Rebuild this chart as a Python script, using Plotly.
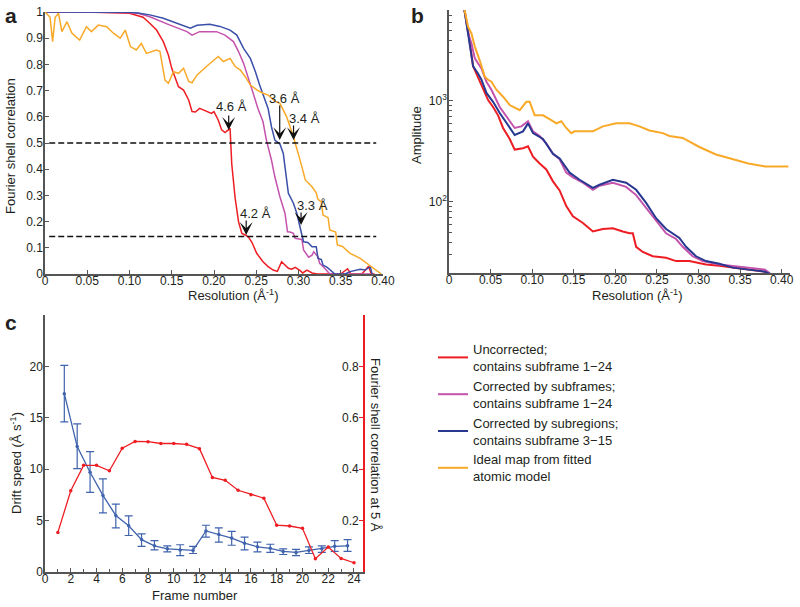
import plotly.graph_objects as go

FONT = "Liberation Sans, Arial, Helvetica, sans-serif"
TXT = "#231f20"
AX = "#555555"

# ---------------- Panel a: Fourier shell correlation ----------------
fsc_unc_x = [0, 0.05, 0.10, 0.116, 0.124, 0.132, 0.14, 0.146, 0.15, 0.154, 0.158, 0.164, 0.17, 0.174,
             0.178, 0.183, 0.191, 0.197, 0.2, 0.205, 0.209, 0.213, 0.217, 0.219, 0.221, 0.225, 0.229,
             0.233, 0.237, 0.241, 0.245, 0.2505, 0.258, 0.264, 0.27, 0.275, 0.28, 0.284, 0.288, 0.292,
             0.296, 0.302, 0.305, 0.31, 0.316, 0.322, 0.33, 0.34, 0.35, 0.358, 0.362, 0.366, 0.375,
             0.383, 0.386, 0.39]
fsc_unc_y = [1.0, 1.0, 0.995, 0.98, 0.957, 0.931, 0.887, 0.836, 0.785, 0.753, 0.715, 0.702, 0.664, 0.62,
             0.618, 0.632, 0.62, 0.613, 0.62, 0.588, 0.55, 0.54, 0.55, 0.556, 0.42, 0.29, 0.2,
             0.155, 0.149, 0.14, 0.12, 0.079, 0.047, 0.028, 0.015, 0.01, 0.047, 0.036, 0.022, 0.018,
             0.025, 0.013, 0.004, 0.015, 0.004, 0.0, 0.0, 0.0, 0.0, 0.02, 0.0, 0.0, 0.0,
             0.03, 0.0, 0.0]

fsc_sub_x = [0, 0.05, 0.10, 0.11, 0.124, 0.148, 0.168, 0.174, 0.183, 0.203, 0.213, 0.223, 0.229, 0.235,
             0.241, 0.247, 0.252, 0.258, 0.262, 0.268, 0.272, 0.278, 0.284, 0.287, 0.29, 0.294, 0.296,
             0.304, 0.306, 0.312, 0.316, 0.318, 0.323, 0.325, 0.331, 0.337, 0.36, 0.385]
fsc_sub_y = [1.0, 1.0, 0.998, 0.995, 0.982, 0.95, 0.925, 0.912, 0.925, 0.925, 0.912, 0.887, 0.849, 0.804,
             0.747, 0.683, 0.632, 0.581, 0.511, 0.435, 0.371, 0.295, 0.232, 0.161, 0.16, 0.155, 0.136,
             0.132, 0.092, 0.064, 0.072, 0.085, 0.066, 0.041, 0.022, 0.0, 0.0, 0.0]

fsc_reg_x = [0, 0.05, 0.10, 0.11, 0.124, 0.14, 0.156, 0.172, 0.18, 0.195, 0.207, 0.219, 0.227, 0.235,
             0.243, 0.249, 0.254, 0.26, 0.264, 0.268, 0.272, 0.278, 0.282, 0.285, 0.288, 0.294, 0.298,
             0.304, 0.306, 0.311, 0.316, 0.321, 0.323, 0.327, 0.329, 0.334, 0.339, 0.343, 0.355, 0.361,
             0.373, 0.379, 0.385, 0.387]
fsc_reg_y = [1.0, 1.0, 0.999, 0.996, 0.989, 0.976, 0.957, 0.938, 0.949, 0.953, 0.945, 0.931, 0.912, 0.861,
             0.823, 0.772, 0.721, 0.671, 0.632, 0.562, 0.511, 0.496, 0.46, 0.384, 0.308, 0.27, 0.232,
             0.149, 0.123, 0.12, 0.104, 0.104, 0.06, 0.055, 0.034, 0.025, 0.009, 0.0, 0.0, 0.009,
             0.018, 0.015, 0.028, 0.0]

fsc_ideal_x = [0, 0.006, 0.009, 0.012, 0.016, 0.02, 0.026, 0.032, 0.041, 0.049, 0.055, 0.063, 0.073,
               0.081, 0.089, 0.095, 0.101, 0.108, 0.114, 0.12, 0.132, 0.136, 0.142, 0.146, 0.152, 0.158,
               0.164, 0.17, 0.174, 0.18, 0.191, 0.205, 0.211, 0.219, 0.225, 0.231, 0.237, 0.243, 0.251,
               0.258, 0.264, 0.272, 0.278, 0.286, 0.294, 0.3, 0.304, 0.308, 0.316, 0.321, 0.323, 0.327,
               0.329, 0.335, 0.337, 0.344, 0.346, 0.352, 0.361, 0.373, 0.381, 0.389, 0.398]
fsc_ideal_y = [1.0, 0.98, 0.887, 0.98, 0.995, 0.925, 0.963, 0.919, 0.893, 0.944, 0.925, 0.95, 0.944,
               0.919, 0.9, 0.931, 0.868, 0.855, 0.88, 0.842, 0.855, 0.85, 0.74, 0.728, 0.772, 0.766,
               0.785, 0.735, 0.73, 0.76, 0.792, 0.83, 0.811, 0.823, 0.792, 0.779, 0.753, 0.721, 0.702,
               0.69, 0.683, 0.66, 0.651, 0.60, 0.524, 0.46, 0.41, 0.359, 0.333, 0.31, 0.285, 0.275,
               0.225, 0.215, 0.168, 0.16, 0.111, 0.105, 0.079, 0.06, 0.041, 0.022, 0.0]

fsc_thresholds = [0.5, 0.143]
res_labels = [4.6, 3.6, 3.4, 3.3, 4.2]          # resolution (Å) marked by arrows
res_tip_fsc = [0.55, 0.511, 0.511, 0.187, 0.149]

# ---------------- Panel b: amplitude ----------------
amp_unc_x = [0.018, 0.023, 0.029, 0.037, 0.041, 0.047, 0.053, 0.059, 0.065, 0.073, 0.079, 0.089, 0.095,
             0.101, 0.109, 0.117, 0.125, 0.133, 0.141, 0.149, 0.161, 0.173, 0.185, 0.197, 0.209, 0.217,
             0.221, 0.225, 0.233, 0.245, 0.261, 0.273, 0.289, 0.309, 0.325, 0.341, 0.36, 0.38, 0.388]
amp_unc_y = [8500, 4900, 2200, 1550, 1290, 1020, 870, 720, 540, 420, 330, 340, 355,
             280, 240, 210, 160, 130, 91, 72, 62, 51, 54, 55, 51, 49,
             49, 36, 32, 29, 28, 26, 26, 24, 23.4, 22.4, 21.4, 20.4, 19]

amp_sub_x = [0.018, 0.023, 0.027, 0.031, 0.035, 0.039, 0.045, 0.051, 0.061, 0.069, 0.079, 0.087, 0.095,
             0.101, 0.109, 0.117, 0.125, 0.133, 0.141, 0.149, 0.161, 0.173, 0.181, 0.197, 0.213, 0.225,
             0.237, 0.249, 0.261, 0.273, 0.281, 0.293, 0.305, 0.325, 0.341, 0.36, 0.38, 0.388]
amp_sub_y = [8500, 4700, 3700, 2650, 2350, 2100, 1550, 1290, 870, 710, 540, 560, 630,
             500, 450, 380, 300, 265, 195, 175, 155, 132, 145, 155, 141, 117,
             87, 65, 49, 43, 36, 29, 26, 24, 23.4, 22.4, 21.4, 19]

amp_reg_x = [0.018, 0.023, 0.029, 0.035, 0.039, 0.045, 0.053, 0.061, 0.069, 0.079, 0.089, 0.095,
             0.101, 0.113, 0.125, 0.133, 0.145, 0.157, 0.173, 0.181, 0.197, 0.213, 0.225, 0.237, 0.249,
             0.261, 0.277, 0.285, 0.297, 0.309, 0.325, 0.341, 0.36, 0.38, 0.388]
amp_reg_y = [8500, 4400, 2200, 1860, 1620, 1200, 980, 760, 600, 460, 500, 600,
             480, 420, 300, 270, 195, 166, 138, 148, 166, 155, 132, 98, 69,
             54, 44, 36, 29, 26, 24.5, 22.4, 21.4, 20.4, 19]

amp_ideal_x = [0.018, 0.023, 0.027, 0.031, 0.037, 0.043, 0.047, 0.051, 0.057, 0.065, 0.073, 0.085, 0.093,
               0.097, 0.103, 0.113, 0.125, 0.129, 0.135, 0.141, 0.147, 0.151, 0.173, 0.185, 0.201,
               0.217, 0.229, 0.241, 0.257, 0.265, 0.281, 0.301, 0.321, 0.341, 0.36, 0.38, 0.408]
amp_ideal_y = [8500, 5400, 4660, 3470, 2510, 1740, 1620, 1550, 1290, 1100, 910, 810, 980,
               980, 720, 720, 630, 600, 630, 540, 480, 500, 500, 560, 600,
               600, 560, 510, 480, 450, 430, 350, 295, 265, 240, 225, 224]

# ---------------- Panel c: drift speed & FSC at 5 Å ----------------
drift_frames = [1.5, 2.5, 3.5, 4.5, 5.5, 6.5, 7.5, 8.5, 9.5, 10.5, 11.5, 12.5, 13.5, 14.5, 15.5, 16.5,
                17.5, 18.5, 19.5, 20.5, 21.5, 22.5, 23.5]
drift_speed = [17.35, 12.2, 9.7, 7.45, 5.5, 4.5, 3.15, 2.55, 2.25, 2.15, 2.1, 4.0, 3.65, 3.3, 2.8, 2.45,
               2.3, 2.0, 1.9, 2.1, 2.25, 2.5, 2.55]
drift_err_plus = [2.75, 2.2, 2.0, 1.6, 1.1, 0.95, 0.55, 0.5, 0.3, 0.5, 0.4, 0.55, 0.65, 0.65, 0.6, 0.45,
                  0.4, 0.25, 0.3, 0.35, 0.3, 0.55, 0.6]
drift_err_minus = [2.75, 2.15, 1.95, 1.7, 1.2, 0.95, 0.65, 0.4, 0.3, 0.55, 0.3, 0.6, 0.75, 0.7, 0.65, 0.5,
                   0.4, 0.3, 0.3, 0.3, 0.35, 0.5, 0.55]

fsc5_frames = list(range(1, 25))
fsc5_values = [0.154, 0.316, 0.415, 0.415, 0.394, 0.482, 0.508, 0.507, 0.50, 0.50, 0.497, 0.48, 0.368,
               0.357, 0.318, 0.301, 0.287, 0.182, 0.179, 0.17, 0.052, 0.097, 0.053, 0.036]

series_names = ["Uncorrected;<br>contains subframe 1\u221224",
                "Corrected by subframes;<br>contains subframe 1\u221224",
                "Corrected by subregions;<br>contains subframe 3\u221215",
                "Ideal map from fitted<br>atomic model"]

RED = "#ee1d23"
MAG = "#c453ad"
BLUE_A = "#3a4fa8"
BLUE_B = "#283891"
ORANGE = "#f9a928"
BLUE_C = "#3f63ad"

W, H = 800, 607
def fx(p): return p / W
def fy(p): return 1 - p / H

fig = go.Figure()

# Panel a traces
for xs, ys, col in [(fsc_unc_x, fsc_unc_y, RED), (fsc_sub_x, fsc_sub_y, MAG),
                    (fsc_reg_x, fsc_reg_y, BLUE_A), (fsc_ideal_x, fsc_ideal_y, ORANGE)]:
    fig.add_trace(go.Scatter(x=xs, y=ys, mode="lines", line=dict(color=col, width=1.5),
                             showlegend=False, xaxis="x", yaxis="y"))
for t in fsc_thresholds:
    fig.add_trace(go.Scatter(x=[0.005, 0.392], y=[t, t], mode="lines",
                             line=dict(color="#111111", width=1.5, dash="6px,3px"),
                             showlegend=False, xaxis="x", yaxis="y"))

# Panel b traces (carry the legend)
for xs, ys, col, nm in [(amp_unc_x, amp_unc_y, RED, series_names[0]),
                        (amp_sub_x, amp_sub_y, MAG, series_names[1]),
                        (amp_reg_x, amp_reg_y, BLUE_B, series_names[2]),
                        (amp_ideal_x, amp_ideal_y, ORANGE, series_names[3])]:
    fig.add_trace(go.Scatter(x=xs, y=ys, mode="lines", line=dict(color=col, width=2),
                             name=nm, showlegend=True, xaxis="x2", yaxis="y2"))

# Panel c traces
fig.add_trace(go.Scatter(x=fsc5_frames, y=fsc5_values, mode="lines+markers",
                         line=dict(color=RED, width=1.3), marker=dict(color=RED, size=3.5),
                         showlegend=False, xaxis="x3", yaxis="y4"))
fig.add_trace(go.Scatter(x=drift_frames, y=drift_speed, mode="lines+markers",
                         line=dict(color=BLUE_C, width=1.3), marker=dict(color=BLUE_C, size=3.5),
                         error_y=dict(type="data", array=drift_err_plus, arrayminus=drift_err_minus,
                                      color=BLUE_C, thickness=1.2, width=4),
                         showlegend=False, xaxis="x3", yaxis="y3"))

tickfont = dict(family=FONT, size=12, color=TXT)
base = dict(showline=True, linecolor=AX, linewidth=1.5, ticks="inside", ticklen=4, tickwidth=1,
            tickcolor=AX, showgrid=False, zeroline=False, tickfont=tickfont, automargin=False,
            ticklabeloverflow="allow")
xbase = dict(base, ticklabelstandoff=-5)
ybase = dict(base, ticklabelstandoff=-2)

a_xt = [0, 0.05, 0.10, 0.15, 0.20, 0.25, 0.30, 0.35, 0.40]
a_xl = ["0", "0.05", "0.10", "0.15", "0.20", "0.25", "0.30", "0.35", "0.40"]
a_yt = [0, 0.1, 0.2, 0.3, 0.4, 0.5, 0.6, 0.7, 0.8, 0.9, 1]
a_yl = ["0", "0.1", "0.2", "0.3", "0.4", "0.5", "0.6", "0.7", "0.8", "0.9", "1"]
b_yt = [100, 1000]
b_yl = ["10<sup>2</sup>", "10<sup>3</sup>"]
b_minor = [20, 30, 40, 50, 60, 70, 80, 90, 200, 300, 400, 500, 600, 700, 800, 900,
           2000, 3000, 4000, 5000, 6000, 7000, 8000]
c_xt = list(range(0, 25, 2))
c_yt = [0, 5, 10, 15, 20]
c_rt = [0.2, 0.4, 0.6, 0.8]

fig.update_layout(
    template="none",
    width=W, height=H, margin=dict(l=0, r=0, t=0, b=0, autoexpand=False),
    paper_bgcolor="white", plot_bgcolor="white",
    font=dict(family=FONT, size=13, color=TXT),
    xaxis=dict(xbase, domain=[fx(45), fx(383)], range=[0, 0.40], tickvals=a_xt, ticktext=a_xl, anchor="y"),
    yaxis=dict(ybase, domain=[fy(274), fy(12)], range=[0, 1], tickvals=a_yt, ticktext=a_yl, anchor="x"),
    xaxis2=dict(xbase, domain=[fx(449), fx(790)], range=[0, 0.41], tickvals=a_xt, ticktext=a_xl, anchor="y2"),
    yaxis2=dict(ybase, domain=[fy(273), fy(10)], type="log", range=[1.297, 3.9], tickvals=b_yt,
                ticktext=b_yl, anchor="x2",
                minor=dict(tickvals=b_minor, ticks="inside", ticklen=3, tickcolor=AX)),
    xaxis3=dict(xbase, domain=[fx(45), fx(363)], range=[0, 24.7], tickvals=c_xt, anchor="y3",
                minor=dict(dtick=1, ticks="inside", ticklen=3, tickcolor=AX)),
    yaxis3=dict(ybase, domain=[fy(572), fy(315)], range=[0, 25], tickvals=c_yt, anchor="x3"),
    yaxis4=dict(base, domain=[fy(572), fy(315)], range=[0, 1], tickvals=c_rt, anchor="x3",
                overlaying="y3", side="right", linecolor=RED, tickcolor=RED,
                ticklabelposition="inside"),
    legend=dict(x=fx(433), y=fy(334), xanchor="left", yanchor="top", bgcolor="rgba(0,0,0,0)",
                font=dict(family=FONT, size=13, color=TXT), tracegroupgap=0),
    showlegend=True,
)

ann = []
def title(text, x, y, angle=0, size=13, bold=False):
    ann.append(dict(text=("<b>%s</b>" % text) if bold else text, x=fx(x), y=fy(y), xref="paper",
                    yref="paper", showarrow=False, textangle=angle, xanchor="center", yanchor="middle",
                    font=dict(family=FONT, size=size, color=TXT)))

title("a", 11, 16, size=21, bold=True)
title("b", 417, 15, size=21, bold=True)
title("c", 11, 322, size=21, bold=True)
title("Fourier shell correlation", 10, 146, angle=-90)
title("Resolution (Å<sup>-1</sup>)", 233, 295)
title("Amplitude", 417, 135, angle=-90)
title("Resolution (Å<sup>-1</sup>)", 637, 295)
title("Drift speed (Å s<sup>-1</sup>)", 16, 463, angle=-90)
title("Frame number", 195, 595)
title("Fourier shell correlation at 5 Å", 376, 445, angle=90)

# resolution arrows (panel a)
arrow_len = [17, 37, 17, 15, 17]
text_dx = [3, 5, 11, 11, 9]
text_dy = [23, 42, 22, 20, 21]
for r, tip, L, dx, dy in zip(res_labels, res_tip_fsc, arrow_len, text_dx, text_dy):
    ann.append(dict(x=1 / r, y=tip, xref="x", yref="y", text=" ", showarrow=True, ax=0, ay=-L,
                    arrowhead=3, arrowsize=1.8, arrowwidth=1.2, arrowcolor="#111111",
                    font=dict(size=2)))
    ann.append(dict(x=1 / r, y=tip, xref="x", yref="y", text="%.1f Å" % r, showarrow=False,
                    xshift=dx, yshift=dy, xanchor="center", yanchor="middle",
                    font=dict(family=FONT, size=13, color=TXT)))

fig.update_layout(annotations=ann)
fig.write_html("out.html", config={"displayModeBar": False},
               post_script="document.body.style.margin='0';document.body.style.padding='0';"
                           "document.documentElement.style.overflow='hidden';")
